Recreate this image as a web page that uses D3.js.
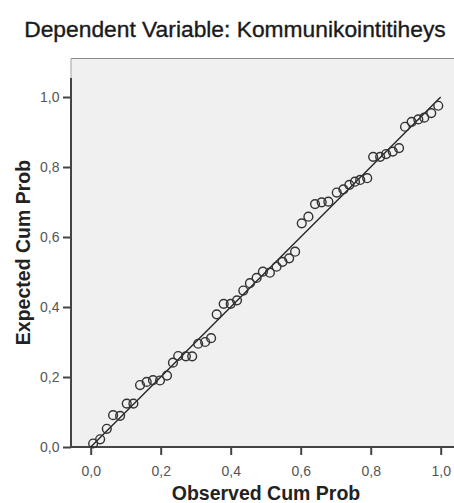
<!DOCTYPE html>
<html>
<head>
<meta charset="utf-8">
<script src="https://cdn.jsdelivr.net/npm/d3@7"></script>
<style>
  html, body { margin: 0; padding: 0; background: #fff; }
  svg { display: block; }
</style>
</head>
<body>
<div id="chart"></div>
<script>
const title = "Dependent Variable: Kommunikointitiheys";
const xTitle = "Observed Cum Prob";
const yTitle = "Expected Cum Prob";
const tickValues = [0, 0.2, 0.4, 0.6, 0.8, 1.0];
const tickLabels = ["0,0", "0,2", "0,4", "0,6", "0,8", "1,0"];

const observed = [0.007, 0.027, 0.046, 0.064, 0.084, 0.103, 0.122, 0.141, 0.160, 0.178,
  0.198, 0.218, 0.235, 0.250, 0.272, 0.290, 0.307, 0.327, 0.344, 0.360,
  0.380, 0.400, 0.418, 0.436, 0.455, 0.474, 0.492, 0.512, 0.531, 0.548,
  0.567, 0.584, 0.603, 0.622, 0.641, 0.660, 0.679, 0.703, 0.722, 0.739,
  0.755, 0.770, 0.790, 0.807, 0.827, 0.844, 0.863, 0.881, 0.898, 0.917,
  0.936, 0.953, 0.973, 0.993];
const expected = [0.010, 0.022, 0.052, 0.091, 0.089, 0.124, 0.124, 0.177, 0.186, 0.191,
  0.190, 0.204, 0.241, 0.260, 0.259, 0.259, 0.295, 0.300, 0.311, 0.379,
  0.409, 0.409, 0.419, 0.447, 0.468, 0.483, 0.501, 0.498, 0.515, 0.529,
  0.539, 0.558, 0.639, 0.658, 0.694, 0.699, 0.701, 0.727, 0.736, 0.749,
  0.758, 0.763, 0.768, 0.829, 0.829, 0.837, 0.844, 0.854, 0.915, 0.929,
  0.936, 0.941, 0.954, 0.975];
const refLine = [[0, 0], [1, 1]];

const W = 454, H = 503;
const svg = d3.select("#chart").append("svg").attr("width", W).attr("height", H);

const x = d3.scaleLinear().domain([0, 1]).range([90.7, 440.7]);
const y = d3.scaleLinear().domain([0, 1]).range([447, 97]);

const panel = { left: 71, top: 58.5, right: 462, bottom: 447 };

// panel background
svg.append("rect")
  .attr("x", panel.left).attr("y", panel.top)
  .attr("width", panel.right - panel.left).attr("height", panel.bottom - panel.top)
  .attr("fill", "#f0f0f0");
svg.append("line")
  .attr("x1", panel.left).attr("x2", panel.right)
  .attr("y1", panel.top).attr("y2", panel.top)
  .attr("stroke", "#8a8a8a").attr("stroke-width", 1.2);
svg.append("line")
  .attr("x1", panel.left).attr("x2", panel.left)
  .attr("y1", panel.top).attr("y2", panel.bottom)
  .attr("stroke", "#b0b0b0").attr("stroke-width", 1.2);

// axes
const font = "'Liberation Sans', Arial, sans-serif";
const fmt = d => tickLabels[tickValues.indexOf(d)];

const gy = svg.append("g").attr("transform", `translate(${panel.left},0)`)
  .call(d3.axisLeft(y).tickValues(tickValues).tickFormat(fmt).tickSize(8).tickPadding(3.5));
const gx = svg.append("g").attr("transform", `translate(0,${panel.bottom})`)
  .call(d3.axisBottom(x).tickValues(tickValues).tickFormat(fmt).tickSize(8).tickPadding(11));
[gx, gy].forEach(g => {
  g.select(".domain").remove();
  g.selectAll(".tick line").attr("stroke", "#444").attr("stroke-width", 2);
  g.selectAll(".tick text").attr("fill", "#555").style("font-family", font).style("font-size", "14px");
});
// axis lines
svg.append("line")
  .attr("x1", panel.left).attr("x2", panel.left)
  .attr("y1", y(1.054)).attr("y2", panel.bottom + 1)
  .attr("stroke", "#444").attr("stroke-width", 2);
svg.append("line")
  .attr("x1", panel.left - 1).attr("x2", panel.right)
  .attr("y1", panel.bottom).attr("y2", panel.bottom)
  .attr("stroke", "#444").attr("stroke-width", 2);

// reference line
svg.append("path")
  .datum(refLine)
  .attr("d", d3.line().x(d => x(d[0])).y(d => y(d[1])))
  .attr("fill", "none").attr("stroke", "#222").attr("stroke-width", 1.3);

// points
svg.append("g").selectAll("circle")
  .data(observed.map((o, i) => [o, expected[i]]))
  .join("circle")
  .attr("cx", d => x(d[0])).attr("cy", d => y(d[1]))
  .attr("r", 4.4)
  .attr("fill", "none").attr("stroke", "#333").attr("stroke-width", 1.4);

// titles
svg.append("text")
  .attr("x", 235).attr("y", 37)
  .attr("text-anchor", "middle")
  .style("font-family", font).style("font-size", "22.8px")
  .attr("fill", "#1a1a1a").attr("stroke", "#1a1a1a").attr("stroke-width", 0.35)
  .text(title);
svg.append("text")
  .attr("x", 266).attr("y", 500)
  .attr("text-anchor", "middle")
  .style("font-family", font).style("font-size", "19.5px").style("font-weight", "bold")
  .attr("fill", "#222")
  .text(xTitle);
svg.append("text")
  .attr("transform", "translate(30,252.5) rotate(-90)")
  .attr("text-anchor", "middle")
  .style("font-family", font).style("font-size", "19.5px").style("font-weight", "bold")
  .attr("fill", "#222")
  .text(yTitle);
</script>
</body>
</html>
